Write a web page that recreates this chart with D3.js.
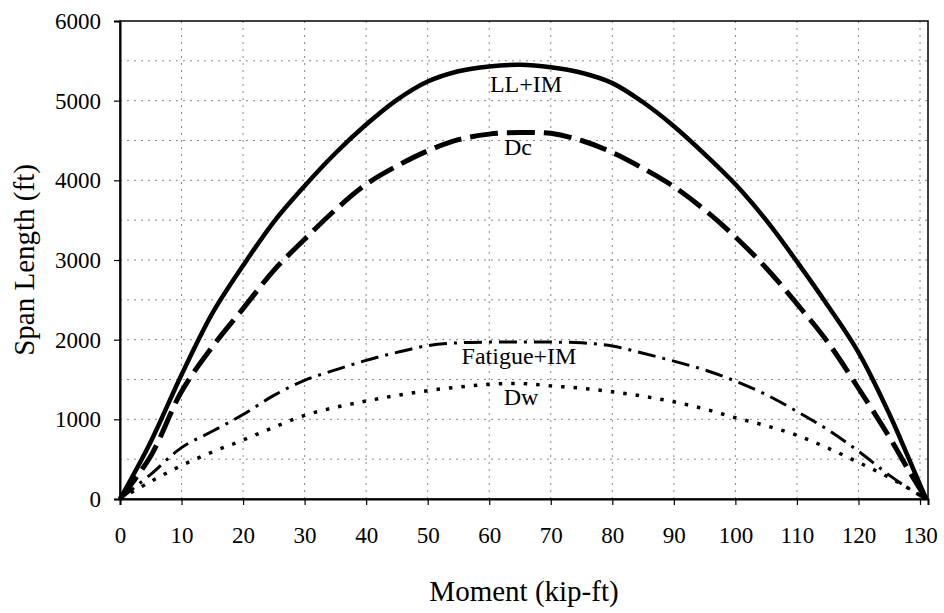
<!DOCTYPE html>
<html>
<head>
<meta charset="utf-8">
<script src="https://cdn.jsdelivr.net/npm/d3@7"></script>
<style>
  body { margin: 0; background: #fff; }
  text { font-family: "Liberation Serif", "Times New Roman", serif; fill: #000; }
</style>
</head>
<body>
<div id="chart"></div>
<script>
// data
var moment = [0, 5, 10, 15, 20, 25, 30, 35, 40, 45, 50, 55, 60, 65, 70, 75, 80, 85, 90, 95, 100, 105, 110, 115, 120, 125, 128, 131];
var llim = [0, 720, 1560, 2330, 2930, 3480, 3930, 4340, 4700, 5010, 5240, 5370, 5430, 5450, 5420, 5350, 5220, 4980, 4680, 4330, 3950, 3500, 2980, 2430, 1840, 1070, 540, 0];
var dc = [0, 540, 1350, 1910, 2390, 2870, 3260, 3630, 3950, 4180, 4370, 4510, 4580, 4600, 4590, 4500, 4350, 4150, 3920, 3630, 3290, 2900, 2450, 1970, 1390, 780, 380, 0];
var fatigue = [0, 310, 645, 850, 1060, 1300, 1490, 1620, 1740, 1840, 1925, 1960, 1970, 1970, 1970, 1960, 1920, 1830, 1730, 1620, 1480, 1310, 1100, 870, 600, 300, 140, 0];
var dw = [0, 220, 420, 590, 740, 900, 1050, 1150, 1230, 1300, 1360, 1405, 1440, 1450, 1420, 1390, 1345, 1290, 1220, 1130, 1020, 920, 800, 640, 460, 270, 140, 0];

var xTicks = [0, 10, 20, 30, 40, 50, 60, 70, 80, 90, 100, 110, 120, 130];
var yTicks = [0, 1000, 2000, 3000, 4000, 5000, 6000];
var yGrid = [500, 1000, 1500, 2000, 2500, 3000, 3500, 4000, 4500, 5000, 5500];

var svgWidth = 944;
var svgHeight = 613;

var margin = { top: 21, right: 16, bottom: 114, left: 120 };
var width = svgWidth - margin.left - margin.right;
var height = svgHeight - margin.top - margin.bottom;

var svg = d3.select("#chart")
  .append("svg")
  .attr("width", svgWidth)
  .attr("height", svgHeight);

svg.append("rect")
  .attr("width", svgWidth)
  .attr("height", svgHeight)
  .attr("fill", "#fff");

var g = svg.append("g")
  .attr("transform", `translate(${margin.left}, ${margin.top})`);

var x = d3.scaleLinear().domain([0, 131.3]).range([0, width]);
var y = d3.scaleLinear().domain([0, 6000]).range([height, 0]);

// grid (sparse dotted, like the scan)
g.selectAll(".hgrid").data(yGrid).enter()
  .append("line")
  .attr("x1", 0).attr("x2", width)
  .attr("y1", d => y(d)).attr("y2", d => y(d))
  .attr("stroke", "#888")
  .attr("stroke-width", 1)
  .attr("stroke-dasharray", "2,5");

g.selectAll(".vgrid").data(xTicks.filter(d => d > 0)).enter()
  .append("line")
  .attr("x1", d => x(d)).attr("x2", d => x(d))
  .attr("y1", 0).attr("y2", height)
  .attr("stroke", "#888")
  .attr("stroke-width", 1)
  .attr("stroke-dasharray", "2,5");

// frame
g.append("rect")
  .attr("width", width)
  .attr("height", height)
  .attr("fill", "none")
  .attr("stroke", "#000")
  .attr("stroke-width", 1.5);

// axes
var bottomAxis = d3.axisBottom(x).tickValues(xTicks).tickSize(6).tickPadding(22).tickFormat(d3.format("d"));
var leftAxis = d3.axisLeft(y).tickValues(yTicks).tickSize(6).tickPadding(13).tickFormat(d3.format("d"));

var xAxisG = g.append("g")
  .attr("transform", `translate(0, ${height})`)
  .call(bottomAxis);
var yAxisG = g.append("g").call(leftAxis);

[xAxisG, yAxisG].forEach(function(a) {
  a.select(".domain").attr("stroke", "#000").attr("stroke-width", 2);
  a.selectAll(".tick line").attr("stroke", "#000").attr("stroke-width", 1.2);
  a.selectAll(".tick text")
    .style("font-family", "'Liberation Serif', serif")
    .attr("font-size", 23)
    .attr("fill", "#000");
});

// curves
var line = d3.line()
  .x((d, i) => x(moment[i]))
  .y(d => y(d))
  .curve(d3.curveCatmullRom.alpha(0.5));

var series = [
  { name: "LL+IM", values: llim, width: 4.5, dash: null, lx: 526, ly: 92 },
  { name: "Dc", values: dc, width: 5, dash: "28,9", lx: 518, ly: 155 },
  { name: "Fatigue+IM", values: fatigue, width: 3, dash: "18,7,3,7", lx: 519, ly: 364 },
  { name: "Dw", values: dw, width: 3.5, dash: "3.5,9", lx: 521, ly: 405 }
];

series.forEach(function(s) {
  g.append("path")
    .datum(s.values)
    .attr("d", line)
    .attr("fill", "none")
    .attr("stroke", "#000")
    .attr("stroke-width", s.width)
    .attr("stroke-dasharray", s.dash);
});

// curve labels
svg.selectAll(".curveLabel").data(series).enter()
  .append("text")
  .attr("x", d => d.lx)
  .attr("y", d => d.ly)
  .attr("text-anchor", "middle")
  .attr("font-size", 24)
  .text(d => d.name);

// axis titles
svg.append("text")
  .attr("transform", `translate(34, ${margin.top + height / 2}) rotate(-90)`)
  .attr("text-anchor", "middle")
  .attr("font-size", 29)
  .text("Span Length (ft)");

svg.append("text")
  .attr("x", 524)
  .attr("y", 601)
  .attr("text-anchor", "middle")
  .attr("font-size", 29)
  .text("Moment (kip-ft)");
</script>
</body>
</html>
